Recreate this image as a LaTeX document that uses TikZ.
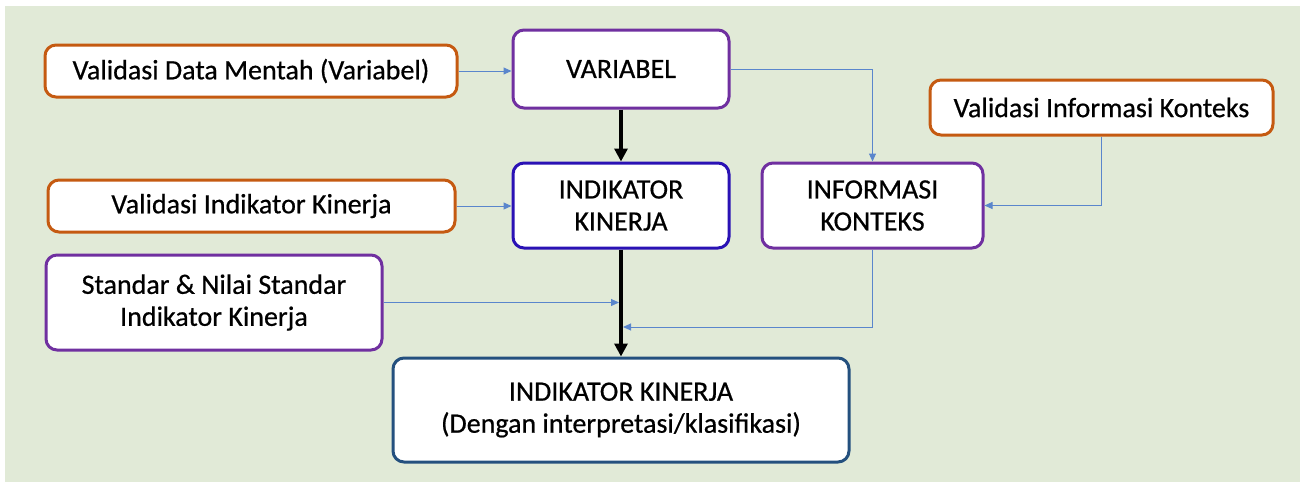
\documentclass[tikz,border=0pt]{standalone}
\usepackage{fontspec}
\setmainfont{Carlito}
\newfontface\medfont{Carlito}[FakeBold=0.6]
\usetikzlibrary{arrows.meta}
\definecolor{bggreen}{HTML}{E1EAD7}
\definecolor{orng}{HTML}{C55A11}
\definecolor{purp}{HTML}{7030A0}
\definecolor{dblue}{HTML}{2A12B5}
\definecolor{steel}{HTML}{24507E}
\definecolor{thinblue}{HTML}{5A86CC}
\tikzset{
  box/.style={draw, fill=white, line width=3pt, rounded corners=11pt, inner sep=0pt, align=center,
    font=\medfont\fontsize{28}{32}\selectfont},
  obox/.style={box, draw=orng},
  pbox/.style={box, draw=purp},
  thin/.style={draw=thinblue, line width=1pt, -{Triangle[length=8pt,width=7pt]}},
  thick/.style={draw=black, line width=4pt, -{Triangle[length=13pt,width=13pt]}},
}
\begin{document}
\begin{tikzpicture}[x=1pt,y=-1pt]
\useasboundingbox (0,0) rectangle (1304,482);
\fill[white] (0,0) rectangle (1304,482);
\fill[bggreen] (5,6) rectangle (1300,482);

\node[obox, minimum width=412pt, minimum height=52pt] (vdm) at (251,71) {Validasi Data Mentah (Variabel)};
\node[obox, minimum width=407pt, minimum height=52pt] (vik) at (251.5,206) {Validasi Indikator Kinerja};
\node[pbox, minimum width=216pt, minimum height=78pt] (var) at (621,69) {VARIABEL};
\node[box, draw=dblue, minimum width=216pt, minimum height=85pt] (ik) at (621,205.5) {INDIKATOR\\KINERJA};
\node[pbox, minimum width=221pt, minimum height=85pt] (inf) at (872.5,205.5) {INFORMASI\\KONTEKS};
\node[obox, minimum width=343pt, minimum height=55pt] (vikon) at (1101.5,107.5) {Validasi Informasi Konteks};
\node[pbox, minimum width=336pt, minimum height=95pt] (std) at (214,302.5) {Standar \& Nilai Standar\\Indikator Kinerja};
\node[box, draw=steel, minimum width=456pt, minimum height=104pt] (fin) at (621,410) {INDIKATOR KINERJA\\(Dengan interpretasi/klasifikasi)};

\coordinate (m1) at (ik.south |- std.east);
\coordinate (m2) at (621,327);

\draw[thin] (vdm.east) -- (vdm.east -| var.west);
\draw[thin] (vik.east) -- (vik.east -| ik.west);
\draw[thin] (var.east) -| (inf.north);
\draw[thin] (vikon.south) |- (inf.east);
\draw[thin, shorten >=2pt] (std.east) -- (m1);
\draw[thin, shorten >=2pt] (inf.south) |- (m2);
\draw[thick] (var.south) -- (ik.north);
\draw[thick] (ik.south) -- (fin.north);
\end{tikzpicture}
\end{document}
